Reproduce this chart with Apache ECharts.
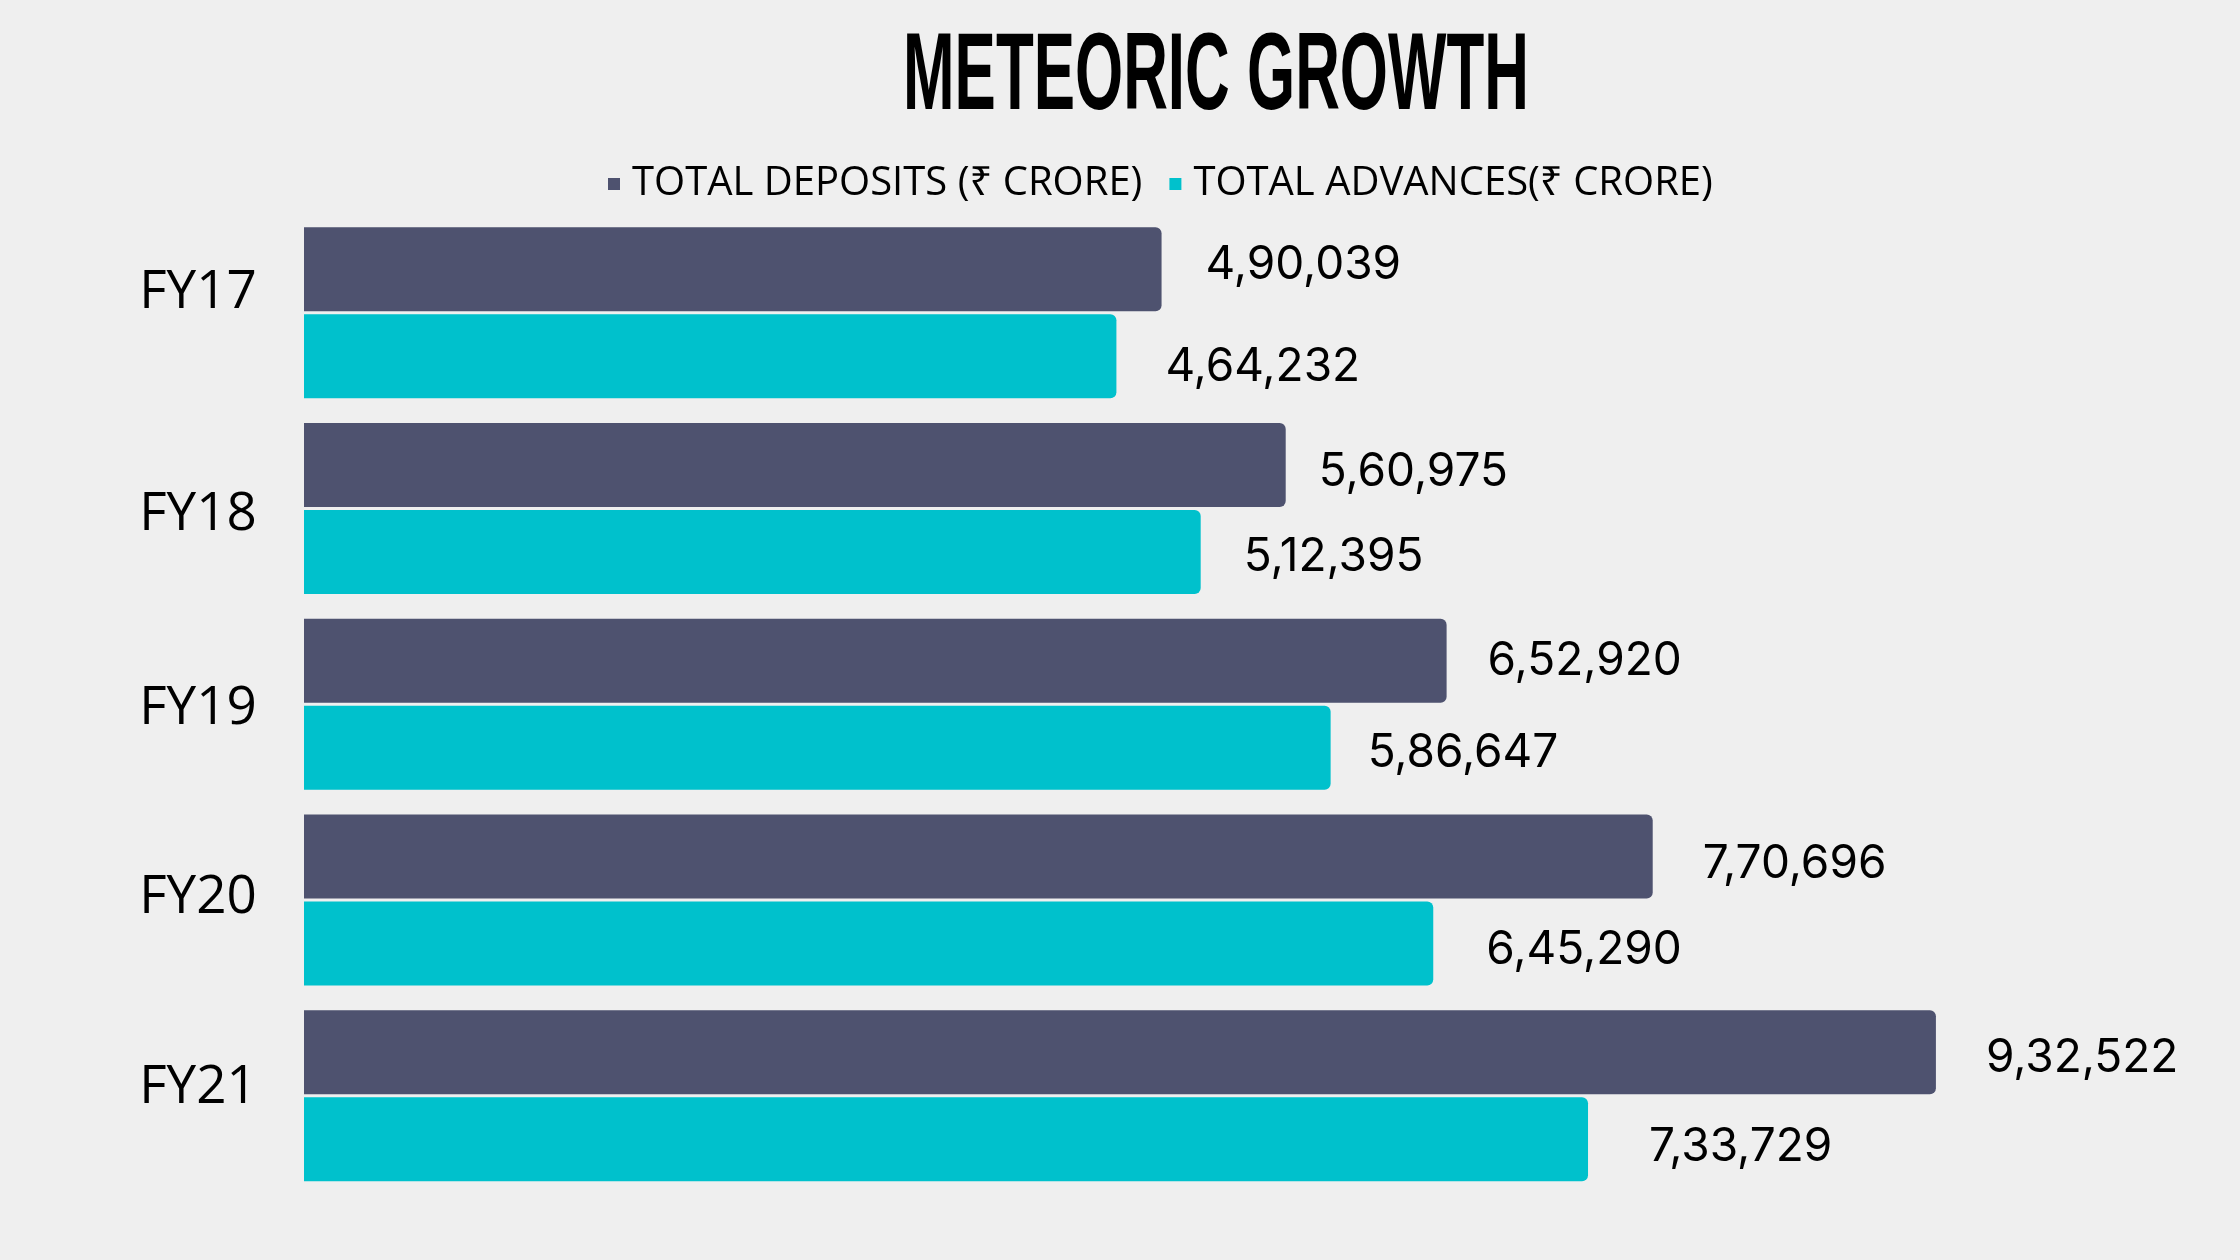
<!DOCTYPE html>
<html>
<head>
<meta charset="utf-8">
<script src="https://cdn.jsdelivr.net/npm/echarts@6/dist/echarts.min.js"></script>
<style>
html,body{margin:0;padding:0;background:#EFEFEF;}
#chart{width:2240px;height:1260px;}
</style>
</head>
<body>
<div id="chart"></div>
<script>
const titleText = 'METEORIC GROWTH';
const categories = ['FY17', 'FY18', 'FY19', 'FY20', 'FY21'];
const seriesNames = ['TOTAL DEPOSITS (₹ CRORE)', 'TOTAL ADVANCES(₹ CRORE)'];
const deposits = [490039, 560975, 652920, 770696, 932522];
const advances = [464232, 512395, 586647, 645290, 733729];

// label nudges (style only, pixels)
const depLabelNudge = [[-3, -4], [-14, 7], [-6, 0], [3, 8], [3, 6]];
const advLabelNudge = [[-1, 11], [-7, 5], [-13, 5], [3, 7], [11, 8]];
const catLabelPad = [[0,0,40,0],[12,0,0,0],[10,0,0,0],[0,0,4,0],[0,0,16,0]];

function indianFormat(n) {
  const s = String(Math.round(n));
  if (s.length <= 3) return s;
  const last3 = s.slice(-3);
  let rest = s.slice(0, -3);
  const parts = [];
  while (rest.length > 2) { parts.unshift(rest.slice(-2)); rest = rest.slice(0, -2); }
  if (rest.length) parts.unshift(rest);
  return parts.join(',') + ',' + last3;
}

const rich = {};
catLabelPad.forEach((p, i) => {
  rich['c' + i] = { fontFamily: '"Open Sans", "Noto Sans", sans-serif', fontSize: 53, color: '#000', padding: p };
});

const titleFont = 'bold 110px "Liberation Sans Narrow", "Liberation Sans", sans-serif';
const cv = document.createElement('canvas').getContext('2d');
cv.font = titleFont;
const naturalW = cv.measureText(titleText).width;
const titleScale = 626 / naturalW;

const chart = echarts.init(document.getElementById('chart'), null, { renderer: 'canvas' });
const labelFont = { fontFamily: 'Inter, "Noto Sans", sans-serif', fontSize: 46, color: '#000' };

function withNudge(values, nudges) {
  return values.map((v, i) => ({ value: v, label: { offset: nudges[i] } }));
}

chart.setOption({
  backgroundColor: '#EFEFEF',
  animation: false,
  graphic: [{
    type: 'text',
    x: 903, y: 79,
    scaleX: titleScale,
    originX: 0,
    style: {
      text: titleText,
      font: titleFont,
      fill: '#000',
      textAlign: 'left',
      textVerticalAlign: 'middle'
    }
  }],
  legend: {
    left: 603,
    top: 155,
    itemWidth: 12,
    itemHeight: 12,
    itemGap: 27,
    icon: 'rect',
    textStyle: {
      fontFamily: '"Open Sans", "Noto Sans", sans-serif',
      fontSize: 40,
      color: '#000',
      lineHeight: 48,
      padding: [0, 0, 0, 7]
    },
    data: seriesNames
  },
  grid: { left: 304, right: 186, top: 215, bottom: 66.5, containLabel: false },
  xAxis: {
    type: 'value',
    min: 0,
    max: 1000000,
    show: false
  },
  yAxis: {
    type: 'category',
    data: categories,
    inverse: true,
    axisLine: { show: false },
    axisTick: { show: false },
    splitLine: { show: false },
    axisLabel: {
      margin: 106,
      align: 'center',
      formatter: (v, i) => '{c' + i + '|' + v + '}',
      rich: rich
    }
  },
  series: [
    {
      name: seriesNames[0],
      type: 'bar',
      data: withNudge(deposits, depLabelNudge),
      barWidth: 84,
      barGap: '3.6%',
      itemStyle: { color: '#4E526F', borderRadius: [0, 6, 6, 0] },
      label: Object.assign({ show: true, position: 'right', distance: 47, formatter: p => indianFormat(p.value) }, labelFont)
    },
    {
      name: seriesNames[1],
      type: 'bar',
      data: withNudge(advances, advLabelNudge),
      barWidth: 84,
      barGap: '3.6%',
      itemStyle: { color: '#00C1CC', borderRadius: [0, 6, 6, 0] },
      label: Object.assign({ show: true, position: 'right', distance: 50, formatter: p => indianFormat(p.value) }, labelFont)
    }
  ]
});
</script>
</body>
</html>
